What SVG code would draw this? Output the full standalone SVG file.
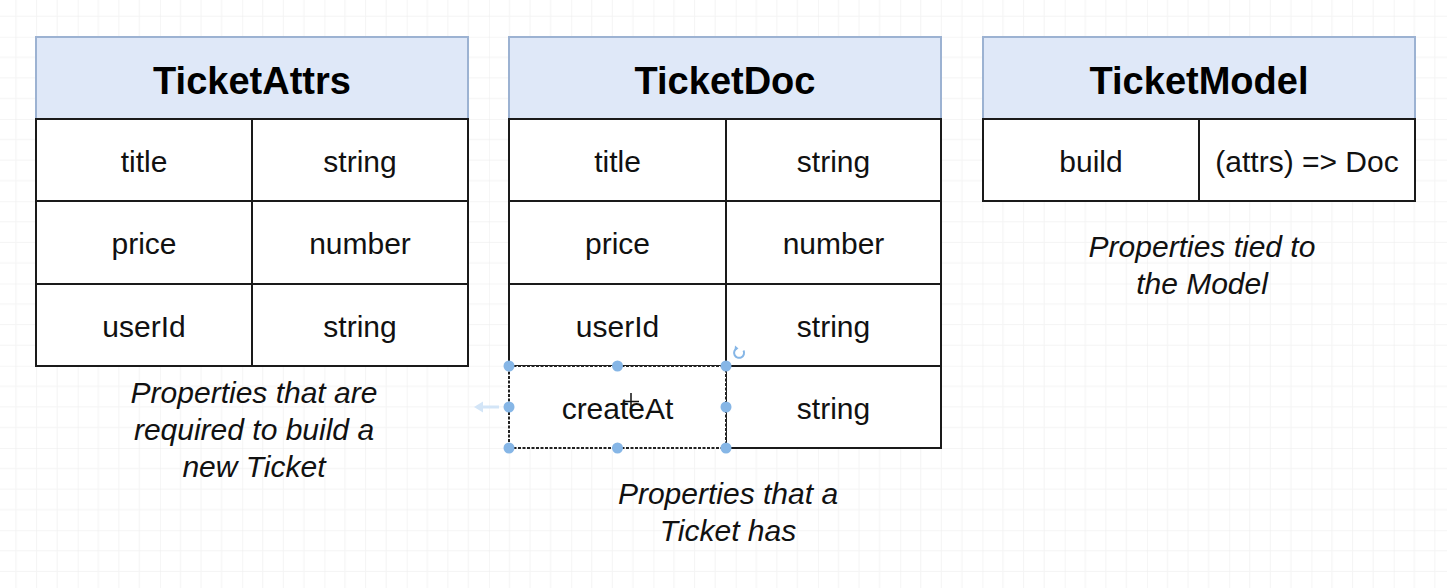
<svg xmlns="http://www.w3.org/2000/svg" width="1447" height="588" viewBox="0 0 1447 588">
  <style>
    .hdr { fill: #dfe8f8; stroke: #9cb2d2; stroke-width: 2; }
    .cell { fill: #ffffff; stroke: #1a1a1a; stroke-width: 2; }
    .htxt { font-family: "Liberation Sans", Arial, sans-serif; font-weight: bold; font-size: 38px; fill: #000; text-anchor: middle; }
    .ctxt { font-family: "Liberation Sans", Arial, sans-serif; font-size: 30px; fill: #111; text-anchor: middle; }
    .cap { font-family: "Liberation Sans", Arial, sans-serif; font-style: italic; font-size: 30px; fill: #111; text-anchor: middle; }
    .handle { fill: #86b6e6; stroke: none; }
  </style>
  <defs>
    <pattern id="grid" x="77.7" y="36.75" width="82.25" height="82.25" patternUnits="userSpaceOnUse">
      <path d="M20.56 0V82.25M41.12 0V82.25M61.69 0V82.25M0 20.56H82.25M0 41.12H82.25M0 61.69H82.25" stroke="#f4f4f4" stroke-width="1" fill="none"/>
      <path d="M0 0V82.25M0 0H82.25" stroke="#ececec" stroke-width="1" fill="none"/>
    </pattern>
  </defs>
  <rect x="0" y="0" width="1447" height="588" fill="#ffffff"/>
  <rect x="0" y="0" width="1447" height="588" fill="url(#grid)"/>

  <g id="connectors"></g>

  <g id="ticket-attrs">
    <rect class="hdr" x="36" y="37" width="432" height="82"/>
    <text class="htxt" x="252" y="94">TicketAttrs</text>
    <rect class="cell" x="36" y="119" width="216" height="82"/>
    <rect class="cell" x="252" y="119" width="216" height="82"/>
    <rect class="cell" x="36" y="201" width="216" height="83"/>
    <rect class="cell" x="252" y="201" width="216" height="83"/>
    <rect class="cell" x="36" y="284" width="216" height="82"/>
    <rect class="cell" x="252" y="284" width="216" height="82"/>
    <text class="ctxt" x="144" y="172">title</text>
    <text class="ctxt" x="360" y="172">string</text>
    <text class="ctxt" x="144" y="254">price</text>
    <text class="ctxt" x="360" y="254">number</text>
    <text class="ctxt" x="144" y="337">userId</text>
    <text class="ctxt" x="360" y="337">string</text>
    <text class="cap" x="254" y="403">Properties that are</text>
    <text class="cap" x="254" y="440">required to build a</text>
    <text class="cap" x="254" y="476.5">new Ticket</text>
  </g>

  <g id="ticket-doc">
    <rect class="hdr" x="509" y="37" width="432" height="82"/>
    <text class="htxt" x="725" y="94">TicketDoc</text>
    <rect class="cell" x="509" y="119" width="217" height="82"/>
    <rect class="cell" x="726" y="119" width="215" height="82"/>
    <rect class="cell" x="509" y="201" width="217" height="83"/>
    <rect class="cell" x="726" y="201" width="215" height="83"/>
    <rect class="cell" x="509" y="284" width="217" height="82"/>
    <rect class="cell" x="726" y="284" width="215" height="82"/>
    <rect class="cell" x="726" y="366" width="215" height="82"/>
    <rect x="509" y="366" width="217" height="82" fill="#ffffff" stroke="#222" stroke-width="2" stroke-dasharray="3 1.5"/>
    <text class="ctxt" x="617.5" y="172">title</text>
    <text class="ctxt" x="833.5" y="172">string</text>
    <text class="ctxt" x="617.5" y="254">price</text>
    <text class="ctxt" x="833.5" y="254">number</text>
    <text class="ctxt" x="617.5" y="337">userId</text>
    <text class="ctxt" x="833.5" y="337">string</text>
    <text class="ctxt" x="617.5" y="419">createAt</text>
    <text class="ctxt" x="833.5" y="419">string</text>
    <text class="cap" x="728" y="504">Properties that a</text>
    <text class="cap" x="728" y="540.5">Ticket has</text>
  </g>

  <g id="selection">
    <circle class="handle" cx="509" cy="366" r="5.5"/>
    <circle class="handle" cx="617.5" cy="366" r="5.5"/>
    <circle class="handle" cx="726" cy="366" r="5.5"/>
    <circle class="handle" cx="509" cy="407" r="5.5"/>
    <circle class="handle" cx="726" cy="407" r="5.5"/>
    <circle class="handle" cx="509" cy="448" r="5.5"/>
    <circle class="handle" cx="617.5" cy="448" r="5.5"/>
    <circle class="handle" cx="726" cy="448" r="5.5"/>
    <path d="M743.5 350.5 A5 5 0 1 1 737 348.3" fill="none" stroke="#86b6e6" stroke-width="2"/>
    <path d="M735 345.5 L738.5 348.5 L734.5 350.5 Z" fill="#86b6e6"/>
    <path d="M499 407 H480" stroke="#d3e5f7" stroke-width="3"/>
    <path d="M474 407 L483 401.5 L483 412.5 Z" fill="#d3e5f7"/>
    <path d="M631 393 V410 M623 401.5 H639" stroke="#111" stroke-width="1.5"/>
  </g>

  <g id="ticket-model">
    <rect class="hdr" x="983" y="37" width="432" height="82"/>
    <text class="htxt" x="1199" y="94">TicketModel</text>
    <rect class="cell" x="983" y="119" width="216" height="82"/>
    <rect class="cell" x="1199" y="119" width="216" height="82"/>
    <text class="ctxt" x="1091" y="172">build</text>
    <text class="ctxt" x="1307" y="172">(attrs) =&gt; Doc</text>
    <text class="cap" x="1202" y="257">Properties tied to</text>
    <text class="cap" x="1202" y="293.5">the Model</text>
  </g>
</svg>
